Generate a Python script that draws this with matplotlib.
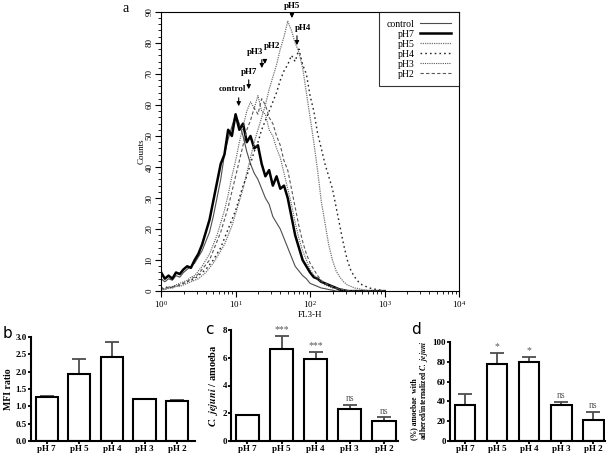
import matplotlib
matplotlib.use("Agg")
import matplotlib.pyplot as plt
import numpy as np
from matplotlib.ticker import LogLocator, MultipleLocator

plt.rcParams["font.family"] = ["Liberation Serif", "DejaVu Serif"]
plt.rcParams["mathtext.fontset"] = "stix"

# ---- panel a: FL3-H histograms (log10 of channel value) ----
FL3_LOG = [0.00, 0.05, 0.10, 0.15, 0.20, 0.25, 0.30, 0.35, 0.40, 0.45,
           0.50, 0.55, 0.60, 0.65, 0.70, 0.75, 0.80, 0.85, 0.90, 0.95,
           1.00, 1.05, 1.10, 1.15, 1.20, 1.25, 1.30, 1.35, 1.40, 1.45,
           1.50, 1.55, 1.60, 1.65, 1.70, 1.75, 1.80, 1.85, 1.90, 1.95,
           2.00, 2.05, 2.10, 2.15, 2.20, 2.25, 2.30, 2.35, 2.40, 2.45,
           2.50, 2.55, 2.60, 2.65, 2.70, 2.75, 2.80, 2.85, 2.90, 2.95, 3.00]

counts_control = [4, 3, 4, 3.5, 5, 4.5, 6, 7, 8, 9,
                  11, 13, 16, 19, 24, 30, 36, 44, 49, 53,
                  57, 54, 50, 45, 41, 38, 36, 33, 30, 28,
                  24, 22, 20, 17, 14, 11, 8, 6.5, 5, 4,
                  2.5, 2, 1.5, 1, 0.8, 0.5, 0.3, 0, 0, 0,
                  0, 0, 0, 0, 0, 0, 0, 0, 0, 0, 0]
counts_ph7 = [6, 4, 5, 4, 6, 5.5, 7, 8, 7.5, 10,
              12, 15, 19, 23, 29, 35, 41, 44, 52, 50,
              57, 52, 54, 48, 50, 46, 47, 41, 37, 39,
              34, 37, 33, 34, 30, 24, 18, 14, 10, 8,
              6, 4.5, 4, 3, 2.5, 2, 1.5, 1, 0.5, 0.3,
              0, 0, 0, 0, 0, 0, 0, 0, 0, 0, 0]
counts_ph5 = [0.5, 0.5, 1, 1, 1.5, 1.5, 2, 2.5, 3, 3.5,
              4, 5, 6, 7.5, 9, 11, 13, 15, 18, 21,
              25, 29, 33, 38, 43, 48, 52, 56, 60, 65,
              69, 73, 78, 82, 87, 84, 80, 77, 72, 64,
              56, 48, 39, 29, 22, 15, 10, 6.5, 4.5, 3,
              2, 1.5, 1, 0.8, 0.5, 0.3, 0, 0, 0, 0, 0]
counts_ph4 = [1, 1, 1.5, 1, 2, 2, 2.5, 3, 3.5, 4,
              5, 6, 7, 8.5, 10, 12, 14, 17, 20, 23,
              26, 30, 34, 37, 41, 45, 48, 52, 55, 58,
              61, 64, 68, 71, 73, 76, 74, 78, 73, 70,
              63, 58, 51, 46, 41, 37, 33, 27, 21, 15,
              10, 6.5, 4.5, 3, 2, 1.5, 1, 0.7, 0.5, 0.3, 0]
counts_ph3 = [1, 0.5, 1.5, 1, 2, 2.5, 3, 3.5, 4.5, 5,
              6.5, 8, 10, 12, 15, 18, 22, 26, 31, 37,
              42, 48, 53, 58, 61, 59, 63, 58, 57, 52,
              50, 46, 43, 38, 33, 28, 22, 17, 13, 10,
              7, 5, 4, 3, 2, 1.5, 1, 0.8, 0.5, 0.3,
              0, 0, 0, 0, 0, 0, 0, 0, 0, 0, 0]
counts_ph2 = [0.5, 1, 1, 1.5, 1.5, 2, 2.5, 3, 4, 4.5,
              5.5, 7, 8.5, 10, 13, 16, 19, 23, 27, 32,
              37, 42, 47, 52, 55, 59, 57, 62, 60, 56,
              54, 50, 47, 42, 39, 33, 27, 21, 16, 12,
              9, 7, 5, 3.5, 2.5, 2, 1.5, 1, 0.7, 0.5,
              0.3, 0, 0, 0, 0, 0, 0, 0, 0, 0, 0]

# peak annotations: label, arrow x, arrow tip y, arrow tail y, text x, text y
peak_labels = ["control", "pH7", "pH3", "pH2", "pH5", "pH4"]
peak_x = [11.0, 15.0, 22.5, 24.7, 57.0, 66.7]
peak_tip = [58.7, 64.2, 71.0, 72.3, 87.1, 78.4]
peak_tail = [63.2, 69.0, 75.5, 75.5, 90.3, 83.2]
label_x = [9.1, 15.0, 18.1, 30.6, 57.0, 80.4]
label_y = [64.0, 69.3, 75.8, 77.7, 90.6, 83.6]

# ---- panels b, c, d ----
ph_groups = ["pH 7", "pH 5", "pH 4", "pH 3", "pH 2"]

mfi_ratio = [1.28, 1.94, 2.43, 1.22, 1.14]
mfi_err = [0.01, 0.42, 0.42, 0.0, 0.05]

cj_per_amoeba = [1.88, 6.65, 5.88, 2.28, 1.44]
cj_err = [0.0, 0.90, 0.54, 0.35, 0.26]
cj_sig = ["", "***", "***", "ns", "ns"]

pct_amoebae = [36.5, 77.7, 80.0, 36.5, 21.0]
pct_err = [10.5, 11.3, 4.8, 3.2, 8.4]
pct_sig = ["", "*", "*", "ns", "ns"]


def main():
    fig = plt.figure(figsize=(6.08, 4.57), dpi=100)

    # ---------------- panel a ----------------
    ax = fig.add_axes([0.265, 0.363, 0.490, 0.611])
    x = 10 ** np.array(FL3_LOG)
    styles = [
        ("control", counts_control, dict(color="0.3", lw=0.8, ls="-")),
        ("pH7", counts_ph7, dict(color="black", lw=1.8, ls="-")),
        ("pH5", counts_ph5, dict(color="0.45", lw=0.9, ls=(0, (1, 0.8)))),
        ("pH4", counts_ph4, dict(color="0.15", lw=1.0, ls=(0, (1.2, 2.2)))),
        ("pH3", counts_ph3, dict(color="0.35", lw=0.8, ls=(0, (1, 1)))),
        ("pH2", counts_ph2, dict(color="0.35", lw=0.8, ls=(0, (3, 2)))),
    ]
    for name, y, kw in styles:
        ax.plot(x, y, label=name, **kw)

    ax.set_xscale("log")
    ax.set_xlim(1, 1e4)
    ax.set_ylim(0, 90)
    ax.yaxis.set_major_locator(MultipleLocator(10))
    ax.yaxis.set_minor_locator(MultipleLocator(2))
    ax.xaxis.set_major_locator(LogLocator(base=10, numticks=10))
    ax.xaxis.set_minor_locator(LogLocator(base=10, subs=np.arange(2, 10), numticks=10))
    ax.tick_params(which="major", direction="out", length=4, width=0.8,
                   labelsize=6.5, pad=1.5)
    ax.tick_params(which="minor", direction="out", length=2, width=0.6)
    for lab in ax.get_yticklabels():
        lab.set_rotation(90)
        lab.set_va("center")
    ax.set_xlabel("FL3-H", fontsize=6.5, labelpad=1)
    ax.set_ylabel("Counts", fontsize=6.5, labelpad=0)
    for sp in ax.spines.values():
        sp.set_linewidth(0.8)

    leg = ax.legend(loc="upper right", markerfirst=False, fontsize=7,
                    frameon=True, fancybox=False, borderaxespad=0,
                    handlelength=3.2, labelspacing=0.1, borderpad=0.8,
                    handletextpad=0.6)
    leg.get_frame().set_edgecolor("black")
    leg.get_frame().set_linewidth(0.8)

    for lab, px, tip, tail, tx, ty in zip(peak_labels, peak_x, peak_tip, peak_tail,
                                          label_x, label_y):
        ax.annotate("", xy=(px, tip), xytext=(px, tail),
                    arrowprops=dict(arrowstyle="-|>", color="black", lw=0.8,
                                    mutation_scale=6),
                    annotation_clip=False)
        ax.text(tx, ty, lab, fontsize=6.5, fontweight="bold", ha="center",
                va="bottom", clip_on=False)

    fig.text(126 / 608, 1 - 8 / 457, "a", fontsize=10, ha="center", va="center")

    # ---------------- panels b, c, d ----------------
    def bar_panel(rect, vals, errs, ylim, ystep, yfmt, xlim, width, sig=None):
        bx = fig.add_axes(rect)
        pos = np.arange(len(vals))
        bx.bar(pos, vals, width=width, color="white", edgecolor="black",
               linewidth=1.5, zorder=2)
        bx.errorbar(pos, vals, yerr=[np.zeros(len(errs)), errs], fmt="none",
                    ecolor="0.3", elinewidth=1.3, capsize=5, capthick=1.3, zorder=1)
        bx.set_xlim(*xlim)
        bx.set_ylim(*ylim)
        bx.yaxis.set_major_locator(MultipleLocator(ystep))
        bx.yaxis.set_major_formatter(yfmt)
        bx.set_xticks(pos)
        bx.set_xticklabels(ph_groups)
        for lab in bx.get_xticklabels() + bx.get_yticklabels():
            lab.set_fontweight("bold")
        bx.tick_params(direction="out", length=2.5, width=1.3, labelsize=6.5, pad=0.5)
        bx.spines["top"].set_visible(False)
        bx.spines["right"].set_visible(False)
        bx.spines["left"].set_linewidth(1.5)
        bx.spines["bottom"].set_linewidth(1.5)
        if sig:
            off = 0.015 * (ylim[1] - ylim[0])
            for p, v, e, s in zip(pos, vals, errs, sig):
                if s:
                    bx.text(p, v + e + off, s, ha="center", va="bottom",
                            fontsize=7, color="0.35")
        return bx

    bottom = 1 - 441 / 457

    bx = bar_panel([0.051, bottom, 0.270, (441 - 337) / 457], mfi_ratio, mfi_err,
                   (0, 3), 0.5, "{x:.1f}", (-0.48, 4.55), 0.68)
    bx.set_ylabel("MFI ratio", fontsize=7, fontweight="bold", labelpad=2)
    fig.text(8 / 608, 1 - 333 / 457, "b", family="DejaVu Sans", fontsize=11,
             ha="center", va="center")

    cx = bar_panel([0.380, bottom, 0.275, (441 - 330) / 457], cj_per_amoeba, cj_err,
                   (0, 8), 2, "{x:.0f}", (-0.48, 4.42), 0.68, cj_sig)
    cx.set_ylabel(r"$\mathbfit{C.\ jejuni}$ / amoeba", fontsize=7.5,
                  fontweight="bold", labelpad=2)
    fig.text(209 / 608, 1 - 330 / 457, "c", family="DejaVu Sans", fontsize=11,
             ha="center", va="center")

    dx = bar_panel([0.740, bottom, 0.255, (441 - 342) / 457], pct_amoebae, pct_err,
                   (0, 100), 20, "{x:.0f}", (-0.47, 4.36), 0.64, pct_sig)
    fig.text(420 / 608, 1 - 440 / 457,
             "(%) amoebae  with\nadhered/internalized " + r"$\mathbfit{C.\ jejuni}$",
             rotation=90, fontsize=5.5, fontweight="bold", ha="center", va="bottom",
             multialignment="left", linespacing=1.0)
    fig.text(416 / 608, 1 - 330 / 457, "d", family="DejaVu Sans", fontsize=11,
             ha="center", va="center")

    fig.savefig("out.png", dpi=100)


if __name__ == "__main__":
    main()
